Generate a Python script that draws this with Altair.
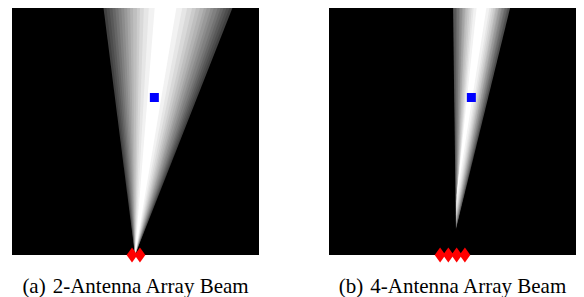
import altair as alt
import pandas as pd

# ---------------- data ----------------
# Panel (a): 2-antenna beam. Intensity levels and the beam's left/right
# edges (x, image pixels) at the top row for each level.
a_levels = [0.25, 0.30, 0.35, 0.40, 0.45, 0.50, 0.55, 0.60, 0.65, 0.70, 0.75, 0.80, 0.85, 0.90, 0.95, 1.00]
a_left = [104, 107, 110, 113, 116, 119, 122, 125, 128, 131, 134, 138, 141, 145, 150, 156]
a_right = [235, 232, 229, 226, 223, 220, 216, 213, 209, 206, 202, 198, 194, 189, 184, 178]
a_apex_y = [255, 255, 255, 255, 255, 255, 255, 255, 255, 255, 255, 255, 255, 255, 255, 255]
a_apex_x = 136
a_ant_x = [133, 141]
a_user_x = [155.5]
a_user_y = [97.5]

# Panel (b): 4-antenna beam
b_levels = [0.30, 0.35, 0.40, 0.45, 0.50, 0.55, 0.60, 0.65, 0.70, 0.75, 0.80, 0.85, 0.90, 0.95, 1.00]
b_left = [458, 459, 461, 462, 464, 465, 467, 468, 470, 471, 473, 475, 477, 479, 482]
b_right = [516, 514, 513, 511, 510, 508, 507, 505, 504, 502, 501, 499, 497, 495, 492]
b_apex_y = [229, 228, 228, 227, 226, 225, 224, 222, 221, 219, 217, 215, 212, 208, 202]
b_apex_x = 461
b_ant_x = [445, 453.3, 461.7, 470]
b_user_x = [476.5]
b_user_y = [97.5]

top_y = 6
ant_y = 255

cap_a = "(a)\u20042-Antenna Array Beam"
cap_b = "(b)\u20044-Antenna Array Beam"


def beam_df(levels, left, right, apex_x, apex_y):
    rows = []
    for g, l, r, ay in zip(levels, left, right, apex_y):
        rows.append({"level": g, "y": top_y, "x": l, "x2": r})
        rows.append({"level": g, "y": ay, "x": apex_x, "x2": apex_x})
    return pd.DataFrame(rows)


def panel(beam, ant_x, ux, uy, xdom, caption):
    xs = alt.Scale(domain=xdom, nice=False, zero=False)
    ys = alt.Scale(domain=[8, 255], nice=False, zero=False, reverse=True)
    beam_layer = alt.Chart(beam).mark_area(orient="horizontal", clip=True, opacity=1, strokeWidth=0).encode(
        y=alt.Y("y:Q", scale=ys, axis=None),
        x=alt.X("x:Q", scale=xs, axis=None, stack=None),
        x2="x2:Q",
        color=alt.Color("level:Q", legend=None,
                        scale=alt.Scale(domain=[0, 1], range=["#000000", "#ffffff"], interpolate="rgb")),
    )
    ants = pd.DataFrame({"x": ant_x, "y": [ant_y] * len(ant_x)})
    ant_layer = alt.Chart(ants).mark_point(
        shape="M0,-1L0.72,0L0,1L-0.72,0Z", filled=True, color="#ff0000", size=225, opacity=1, strokeWidth=0
    ).encode(
        x=alt.X("x:Q", scale=xs, axis=None),
        y=alt.Y("y:Q", scale=ys, axis=None),
    )
    user = pd.DataFrame({"x": ux, "y": uy})
    user_layer = alt.Chart(user).mark_square(color="#0000ff", size=81, opacity=1).encode(
        x=alt.X("x:Q", scale=xs, axis=None),
        y=alt.Y("y:Q", scale=ys, axis=None),
    )
    return alt.layer(beam_layer, ant_layer, user_layer).properties(
        width=247, height=247,
        title=alt.TitleParams(caption, orient="bottom", frame="group", baseline="top", offset=13,
                              font="Liberation Serif", fontSize=21, fontWeight="normal", color="black"),
    )


pa = panel(beam_df(a_levels, a_left, a_right, a_apex_x, a_apex_y), a_ant_x, a_user_x, a_user_y, [12, 261], cap_a)
pb = panel(beam_df(b_levels, b_left, b_right, b_apex_x, b_apex_y), b_ant_x, b_user_x, b_user_y, [333, 582], cap_b)

chart = alt.hconcat(pa, pb, spacing=70).properties(
    padding={"left": 4, "top": 0, "right": 0, "bottom": 0}
).configure_view(fill="black", strokeWidth=0)

chart.save("out.html", embed_options={"renderer": "svg", "actions": False})
